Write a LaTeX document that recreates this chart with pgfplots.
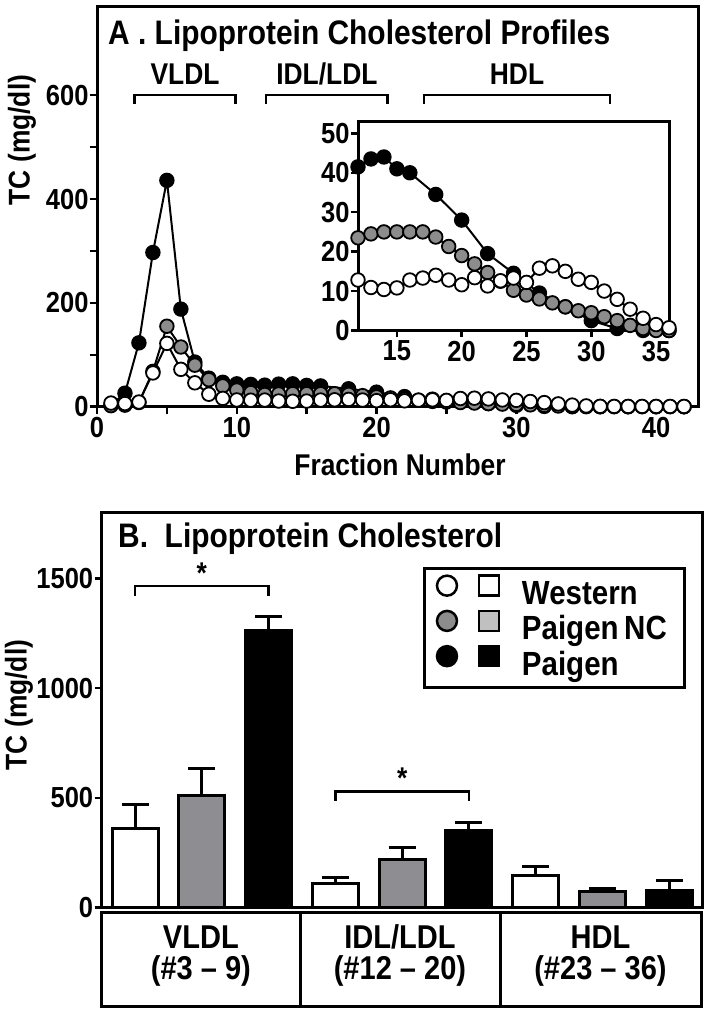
\documentclass[border=0pt]{standalone}
\usepackage{fontspec}
\setmainfont{Liberation Sans}[FakeStretch=0.88]
\usepackage{pgfplots}
\usepackage{pgfplotstable}
\pgfplotsset{compat=1.18}

\definecolor{grayM}{RGB}{140,140,140}
\definecolor{grayB}{RGB}{142,142,146}
\definecolor{grayL}{RGB}{192,192,192}

\newcommand\fT{\fontsize{34}{38}\selectfont\bfseries}
\newcommand\fL{\fontsize{30}{34}\selectfont\bfseries}
\newcommand\fK{\fontsize{29}{32}\selectfont\bfseries}
\newcommand\fG{\fontsize{33}{37}\selectfont\bfseries}
\newcommand\fLeg{\fontsize{33.5}{37}\selectfont\bfseries}

\pgfplotstableread{
x y
1 3
2 26
3 123
4 297
5 436
6 188
7 86
8 55
9 47
10 44
11 43
12 41.5
13 43.5
14 44
15 41
16 40
18 34.5
20 28
22 19.5
24 14.5
26 9.5
28 6
30 2.5
32 0.5
34 0
36 0
38 0
40 0
42 0
}\blk

\pgfplotstableread{
x y
1 2
2 3
3 8
4 68
5 155
6 115
7 80
8 52
9 40
10 32
11 27
12 23.5
13 24.5
14 25
15 25
16 25
17 25
18 23.7
19 21.3
20 19
21 16.9
22 14.7
23 12.5
24 10.2
25 9
26 8
27 7
28 6
29 5
30 4.5
31 3.5
32 2.5
33 1.3
34 0.5
35 0
36 0
37 0
38 0
39 0
40 0
41 0
42 0
}\gry

\pgfplotstableread{
x y
1 7
2 6
3 9
4 65
5 122
6 72
7 46
8 24
9 16
10 13
11 12.5
12 12.8
13 10.9
14 10.4
15 10.8
16 12.8
17 13.3
18 14
19 12.8
20 11.6
21 13.4
22 11.3
23 12.6
24 13.3
25 12.2
26 15.8
27 16.4
28 15
29 13
30 12.2
31 10
32 7.9
33 5.4
34 3.1
35 1.5
36 0.7
37 0.5
38 0.5
39 0.5
40 0.5
41 0.5
42 0.5
}\wht

\pgfplotsset{
  prof/.style={line width=2pt, black, mark=*, mark size=6.8pt,
    mark options={solid, draw=black, line width=1.8pt, fill=#1}},
  common/.style={scale only axis, tick align=outside,
    major tick length=7pt, minor tick length=7pt,
    tick style={line width=2.5pt, black},
    axis line style={line width=3pt},
    xtick pos=bottom, ytick pos=left,
    tick label style={font=\fK},
    yticklabel style={xshift=2pt},
    /pgf/number format/assume math mode=true,
    /pgf/number format/1000 sep={}},
}

\begin{document}
\begin{tikzpicture}
\useasboundingbox (0pt,0pt) rectangle (709pt,1011pt);

% ---------------- Panel A main
\begin{axis}[common,
  at={(97pt,604.3pt)}, anchor=south west, width=601pt, height=399.7pt,
  xmin=0, xmax=43, ymin=0, ymax=770,
  xtick={0,10,20,30,40}, minor xtick={5,15,25,35},
  ytick={0,200,400,600}, minor ytick={100,300,500},
  clip mode=individual]
\addplot[prof=black] table[x=x,y=y]{\blk};
\addplot[prof=grayM] table[x=x,y=y]{\gry};
\addplot[prof=white] table[x=x,y=y]{\wht};
% fraction brackets
\draw[line width=2.5pt] (axis cs:2.7,584) -- (axis cs:2.7,600) -- (axis cs:9.9,600) -- (axis cs:9.9,584);
\draw[line width=2.5pt] (axis cs:12.1,584) -- (axis cs:12.1,600) -- (axis cs:20.8,600) -- (axis cs:20.8,584);
\draw[line width=2.5pt] (axis cs:23.4,584) -- (axis cs:23.4,600) -- (axis cs:36.7,600) -- (axis cs:36.7,584);
\node[font=\fL, anchor=base] at (axis cs:6.3,620) {VLDL};
\node[font=\fL, anchor=base] at (axis cs:16.45,620) {IDL/LDL};
\node[font=\fL, anchor=base] at (axis cs:30.05,620) {HDL};
\end{axis}

\node[font=\fT, anchor=base west, inner sep=0pt] at (108pt,966pt) {A . Lipoprotein Cholesterol Profiles};
\node[font=\fL, rotate=90] at (22pt,871pt) {TC (mg/dl)};
\node[font=\fL] at (400pt,546pt) {Fraction Number};

% ---------------- Panel A inset
\begin{axis}[common,
  at={(358pt,680.5pt)}, anchor=south west, width=311pt, height=209pt,
  xmin=12, xmax=36, ymin=0, ymax=53,
  xtick={15,20,...,35}, ytick={0,10,...,50},
  axis background/.style={fill=white}]
\addplot[prof=black] table[x=x,y=y]{\blk};
\addplot[prof=grayM] table[x=x,y=y]{\gry};
\addplot[prof=white] table[x=x,y=y]{\wht};
\end{axis}

% ---------------- Panel B
\begin{axis}[common,
  at={(101.7pt,103.7pt)}, anchor=south west, width=601pt, height=394.3pt,
  xmin=-0.5, xmax=8.5, ymin=0, ymax=1800,
  xtick=\empty, ytick={0,500,1000,1500},
  clip mode=individual,
  legend style={at={(0.535,0.862)}, anchor=north west, draw=black, line width=3pt,
    fill=white, font=\fLeg, inner xsep=11pt, inner ysep=5.5pt, row sep=-2pt,
    nodes={inner sep=0pt, text height=23pt, text depth=7pt}},
  legend cell align=left]
\addlegendimage{legend image code/.code={
  \draw[line width=2.5pt, fill=white, solid] (11pt,11pt) circle (10pt);
  \draw[line width=2.5pt, fill=white, solid] (43pt,1pt) rectangle (63pt,21pt);
  \path[draw=none, fill=none] (0pt,11pt) rectangle (86pt,11pt);}}
\addlegendentry{\makebox[152pt][l]{Western}}
\addlegendimage{legend image code/.code={
  \draw[line width=2.5pt, fill=grayM, solid] (11pt,11pt) circle (10pt);
  \draw[line width=2.5pt, fill=grayL, solid] (43pt,1pt) rectangle (63pt,21pt);
  \path[draw=none, fill=none] (0pt,11pt) rectangle (86pt,11pt);}}
\addlegendentry{\makebox[152pt][l]{Paigen\,NC}}
\addlegendimage{legend image code/.code={
  \draw[line width=2.5pt, fill=black, solid] (11pt,11pt) circle (10pt);
  \draw[line width=2.5pt, fill=black, solid] (43pt,1pt) rectangle (63pt,21pt);
  \path[draw=none, fill=none] (0pt,11pt) rectangle (86pt,11pt);}}
\addlegendentry{\makebox[152pt][l]{Paigen}}

\pgfplotsset{barB/.style={ybar, bar width=46pt, bar shift=0pt, draw=black, line width=3pt, fill=#1, forget plot,
  error bars/.cd, y dir=plus, y explicit, error mark=|,
  error bar style={line width=3pt, black},
  error mark options={line width=3pt, mark size=13.5pt, black}}}
\addplot[barB=white] coordinates {(0,358) +- (0,110) (3,110) +- (0,25) (6,146) +- (0,40)};
\addplot[barB=grayB] coordinates {(1,509) +- (0,126) (4,219) +- (0,54) (7,71) +- (0,14)};
\addplot[barB=black] coordinates {(2,1265) +- (0,64) (5,350) +- (0,37) (8,78) +- (0,44)};

\draw[line width=2.5pt] (axis cs:0,1420) -- (axis cs:0,1466) -- (axis cs:2,1466) -- (axis cs:2,1420);
\node[font=\fL] at (axis cs:1,1525) {*};
\draw[line width=2.5pt] (axis cs:3,487) -- (axis cs:3,529) -- (axis cs:5,529) -- (axis cs:5,487);
\node[font=\fL] at (axis cs:4,590) {*};
\end{axis}

\node[font=\fT, anchor=base west, inner sep=0pt] at (118pt,463pt) {B.\ \ Lipoprotein Cholesterol};
\node[font=\fL, rotate=90] at (19pt,306pt) {TC (mg/dl)};

% category table under panel B
\draw[line width=3pt] (101.7pt,4pt) rectangle (701pt,98pt);
\draw[line width=3pt] (300pt,4pt) -- (300pt,98pt);
\draw[line width=3pt] (500pt,4pt) -- (500pt,98pt);
\node[font=\fG, inner sep=0pt] at (200.9pt,74pt) {VLDL};
\node[font=\fG, inner sep=0pt] at (200.9pt,40pt) {(\#3 – 9)};
\node[font=\fG, inner sep=0pt] at (400pt,74pt) {IDL/LDL};
\node[font=\fG, inner sep=0pt] at (400pt,40pt) {(\#12 – 20)};
\node[font=\fG, inner sep=0pt] at (600.5pt,74pt) {HDL};
\node[font=\fG, inner sep=0pt] at (600.5pt,40pt) {(\#23 – 36)};
\end{tikzpicture}
\end{document}
